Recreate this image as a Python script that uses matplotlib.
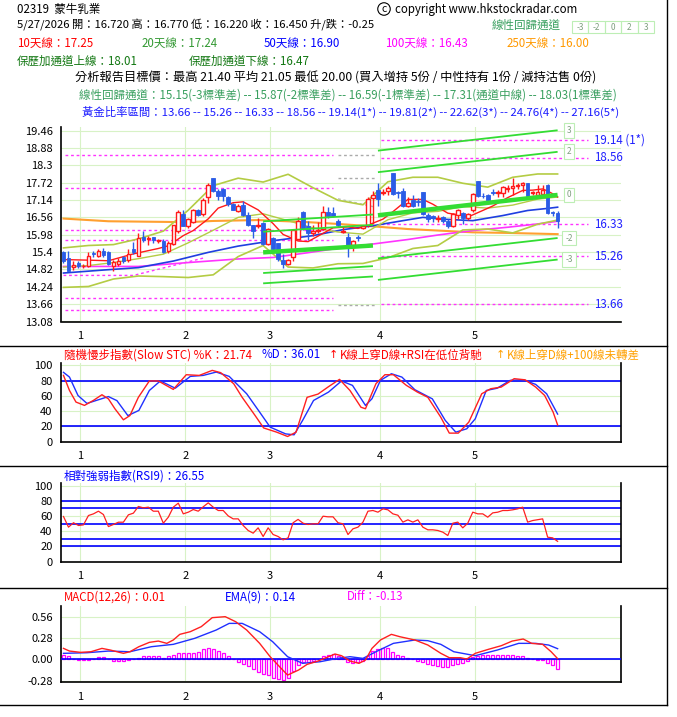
import matplotlib.pyplot as plt
from matplotlib.lines import Line2D
from matplotlib.patches import Rectangle
import numpy as np

plt.rcParams['font.family'] = ['Noto Sans CJK TC', 'DejaVu Sans']

# ---- daily candles, index 0 .. 99 (last = 5/27/2026)
opens = [15.39, 15.19, 14.90, 15.02, 14.92, 14.93, 15.36, 15.26, 15.45, 15.39,
         14.93, 15.01, 15.23, 15.12, 15.51, 15.28, 15.89, 15.85, 15.90, 15.78,
         15.78, 15.42, 15.68, 16.12, 16.68, 16.27, 16.42, 16.82, 16.68, 17.23,
         17.89, 17.45, 17.52, 17.25, 17.01, 16.76, 16.98, 16.64, 16.31, 16.28,
         16.38, 15.68, 15.86, 15.69, 15.12, 15.01, 15.23, 15.84, 16.73, 16.26,
         16.03, 16.12, 16.18, 16.73, 16.70, 16.45, 16.08, 15.89, 15.62, 15.90,
         16.22, 16.29, 17.22, 17.49, 17.38, 17.43, 18.05, 17.40, 17.43, 16.95,
         17.13, 17.12, 17.42, 16.64, 16.60, 16.52, 16.58, 16.45, 16.26, 16.64,
         16.70, 16.54, 16.79, 17.76, 17.29, 17.31, 17.42, 17.36, 17.38, 17.52,
         17.55, 17.62, 17.63, 17.70, 17.36, 17.30, 17.35, 17.64, 16.74, 16.72]
highs = [15.42, 15.45, 15.10, 15.10, 15.00, 15.40, 15.45, 15.50, 15.55, 15.42,
         15.15, 15.20, 15.28, 15.50, 15.75, 16.05, 16.12, 15.95, 15.92, 15.85,
         15.85, 15.78, 16.30, 16.80, 16.80, 16.55, 16.85, 16.85, 17.20, 17.72,
         17.89, 17.52, 17.55, 17.28, 17.05, 17.00, 17.10, 16.75, 16.31, 16.55,
         16.40, 16.20, 15.90, 15.72, 15.32, 15.18, 16.18, 16.58, 16.78, 16.45,
         16.30, 16.40, 16.95, 16.90, 16.90, 16.50, 16.25, 16.05, 15.80, 15.97,
         16.30, 17.23, 17.45, 17.70, 17.50, 17.60, 18.05, 17.45, 17.55, 17.25,
         17.30, 17.20, 17.42, 16.70, 16.65, 16.65, 16.62, 16.50, 16.72, 16.85,
         16.75, 16.72, 17.38, 17.76, 17.38, 17.35, 17.50, 17.48, 17.62, 17.65,
         17.88, 17.70, 17.75, 17.72, 17.45, 17.65, 17.65, 17.68, 16.78, 16.77]
lows = [15.05, 14.78, 14.80, 14.88, 14.88, 14.90, 15.25, 15.22, 15.22, 14.98,
        14.78, 14.95, 15.05, 15.08, 15.35, 15.26, 15.75, 15.65, 15.70, 15.72,
        15.36, 15.38, 15.62, 16.05, 16.26, 16.22, 16.38, 16.60, 16.62, 17.05,
        17.40, 17.15, 17.10, 16.95, 16.79, 16.74, 16.60, 16.28, 15.88, 16.20,
        15.65, 15.65, 15.45, 15.10, 14.86, 14.98, 15.10, 15.80, 16.15, 15.80,
        15.95, 16.05, 16.15, 16.55, 16.58, 16.25, 16.05, 15.23, 15.45, 15.78,
        16.18, 16.25, 16.35, 16.95, 17.30, 17.30, 17.30, 17.20, 16.90, 16.90,
        16.90, 16.95, 16.65, 16.40, 16.40, 16.40, 16.38, 16.22, 16.24, 16.50,
        16.35, 16.48, 16.75, 17.25, 17.20, 17.05, 17.30, 17.25, 17.25, 17.40,
        17.30, 17.50, 17.40, 17.25, 17.30, 17.28, 17.30, 16.68, 16.60, 16.22]
closes = [15.09, 14.78, 14.98, 14.95, 14.95, 15.28, 15.32, 15.45, 15.31, 15.01,
          15.06, 15.10, 15.09, 15.34, 15.39, 15.86, 15.80, 15.88, 15.82, 15.81,
          15.39, 15.69, 16.29, 16.73, 16.26, 16.49, 16.81, 16.64, 17.14, 17.64,
          17.45, 17.27, 17.29, 17.01, 16.79, 16.95, 16.64, 16.31, 16.12, 16.31,
          15.68, 16.18, 15.51, 15.17, 15.01, 15.12, 16.15, 16.45, 16.18, 16.03,
          16.12, 16.15, 16.73, 16.59, 16.62, 16.29, 16.12, 15.59, 15.78, 15.87,
          16.26, 17.18, 17.30, 17.16, 17.42, 17.55, 17.35, 17.36, 16.95, 17.05,
          16.95, 17.08, 16.68, 16.51, 16.55, 16.55, 16.45, 16.26, 16.68, 16.79,
          16.55, 16.68, 17.35, 17.29, 17.27, 17.13, 17.38, 17.40, 17.59, 17.55,
          17.62, 17.64, 17.72, 17.29, 17.40, 17.42, 17.46, 16.71, 16.70, 16.45]

month_start = [3, 24, 41, 63, 82]
month_labels = ['1', '2', '3', '4', '5']

# ---- moving averages / bands (x = day index)
ma10_x = [0, 5, 9, 14, 19, 21, 24, 26, 29, 31, 34, 36, 39, 42, 44, 47, 49, 54, 57, 59,
          61, 64, 66, 69, 72, 74, 77, 79, 81, 84, 86, 89, 92, 94, 96, 97, 98, 99]
ma10 = [15.15, 15.13, 15.11, 15.34, 15.52, 15.61, 15.95, 16.12, 16.51, 16.87, 17.05, 17.08,
        16.81, 16.35, 15.99, 15.77, 15.75, 16.21, 16.24, 16.19, 16.30, 16.50, 16.75, 17.16,
        17.16, 17.00, 16.70, 16.65, 16.57, 16.79, 16.94, 17.22, 17.46, 17.47, 17.51, 17.44,
        17.35, 17.24]
bb_x = [0, 5, 10, 15, 20, 25, 30, 35, 40, 45, 50, 55, 60, 65, 70, 75, 80, 85, 90, 95, 99]
bb_mid = [14.90, 14.95, 15.05, 15.18, 15.33, 15.71, 16.13, 16.56, 16.68, 16.45, 16.21,
          16.07, 16.00, 16.48, 16.71, 16.76, 16.92, 16.87, 16.97, 17.17, 17.24]
bb_up = [15.54, 15.62, 15.65, 15.84, 16.10, 16.80, 17.62, 17.87, 17.74, 18.00, 17.55,
         17.13, 16.98, 17.75, 17.90, 17.90, 17.70, 17.57, 17.90, 18.01, 18.01]
bb_low = [14.22, 14.25, 14.50, 14.60, 14.58, 14.55, 14.64, 15.25, 15.62, 14.90, 14.87,
          15.01, 15.02, 15.21, 15.52, 15.62, 16.14, 16.17, 16.04, 16.33, 16.47]
ma50_x = [0, 8, 15, 22, 29, 35, 42, 50, 56, 62, 68, 72, 76, 82, 88, 93, 97, 99]
ma50 = [14.70, 14.80, 14.88, 15.10, 15.39, 15.60, 15.78, 15.95, 16.15, 16.28, 16.45,
        16.56, 16.50, 16.45, 16.62, 16.79, 16.86, 16.90]
ma100_x = [0, 15, 25, 35, 42, 49, 56, 62, 69, 75, 82, 89, 95, 99]
ma100 = [14.92, 14.92, 15.05, 15.17, 15.22, 15.38, 15.55, 15.67, 15.82, 15.97, 16.12,
         16.23, 16.34, 16.43]
ma250_x = [0, 9, 25, 30, 39, 49, 55, 62, 69, 75, 82, 89, 99]
ma250 = [16.52, 16.43, 16.40, 16.44, 16.47, 16.40, 16.34, 16.26, 16.17, 16.12, 16.06,
         16.04, 16.00]

# linear regression channels (start/end of centre line, one std dev)
regA_x = [40, 62]
regA_mid = [15.39, 15.62]
regA_sd = 0.345
regB_x = [63, 99]
regB_mid = [16.63, 17.31]
regB_sd = 0.72
reg_levels = [3, 2, 0, -2, -3]

# golden-ratio levels
fib_old = [18.65, 17.55, 16.15, 15.82, 13.87, 13.45]
fib_old_x = [0.3, 54]
fib_gray = [18.65, 17.88, 13.63]
fib_gray_x = [55, 62.5]
fib_new = [19.14, 18.56, 16.33, 15.26, 13.66]
fib_new_lbl = ['19.14 (1*)', '18.56', '16.33', '15.26', '13.66']
fib_new_x = [63.7, 105]
pink_dot_x = [0, 14, 28.5]
pink_dot = [14.62, 14.62, 15.22]

# ---- slow stochastic
k_x = [0, 1.2, 2.5, 4.2, 6, 7.7, 9, 10.3, 12, 13.3, 15, 17.2, 19, 22, 24.6, 27.2, 29.8,
       31.5, 34.1, 35.8, 38.4, 40.1, 42.7, 44.9, 46.6, 48.8, 51, 53.1, 55.3, 57.4, 59.6,
       60.5, 62.6, 64.4, 66.1, 68.7, 70.9, 73, 75.6, 77.3, 79.1, 81.2, 83.8, 85.6, 87.7,
       90.3, 92.5, 94.6, 96.4, 98.1, 99]
k_val = [86.8, 67, 51.8, 47.4, 54, 61.4, 56, 43, 28.5, 34, 58, 79.5, 79.5, 68.4, 87.7,
         86.8, 93.4, 90.4, 75.9, 58, 34, 17.8, 12.3, 6.6, 12.3, 58, 62.3, 72, 81.6, 67,
         45, 43, 75.9, 87.7, 87.7, 73.7, 64.9, 58, 31.8, 11, 11, 25.4, 62.7, 69.3, 71.5,
         82.5, 81, 71.5, 60.5, 38.6, 21.74]
d_x = [0, 1.2, 2.9, 4.7, 9, 10.7, 12.9, 15.1, 17.2, 19.4, 22.4, 25.4, 28, 30.6, 33.2,
       36.7, 39.3, 41.4, 44.5, 46.2, 47.9, 50.1, 53.1, 55.7, 57.9, 60.5, 61.8, 63.5, 65.7,
       67.8, 70.4, 73.9, 76.5, 78.6, 80.8, 82.5, 84.7, 86.9, 89.5, 92.1, 94.6, 96.8, 99]
d_val = [90.8, 84.6, 60.5, 50, 59, 53.7, 34, 40.8, 67, 79.5, 70, 85.5, 86.8, 91.2, 85.5,
         62.7, 38.6, 18.9, 10, 8.8, 27.6, 53.9, 64.9, 79.5, 73.7, 47.4, 56.1, 80.3, 89,
         84.6, 68, 56, 27.6, 12.3, 16.7, 29.8, 67, 70, 80.3, 81, 75, 62.7, 36.01]

# ---- RSI(9), one value per day
rsi = [59.2, 45.2, 51, 47.4, 48.2, 60.5, 62.7, 66.2, 61.8, 46,
       48.7, 51.7, 51.7, 61.4, 63.6, 72.4, 70.6, 71.5, 66.2, 66.2,
       50.4, 58.3, 71.5, 76.8, 62.7, 64.9, 68.4, 66.2, 72, 77.2,
       71.5, 67.1, 67.1, 60, 56.1, 56.1, 47.4, 40.8, 37.3, 44.3,
       32.9, 44.3, 35.5, 32.9, 28.5, 31.1, 51, 55.4, 50.4, 48.7,
       49.6, 49.6, 59.6, 58.8, 58.8, 51, 49.6, 35.5, 43, 45.2,
       51.8, 66.2, 67.1, 64.9, 69.3, 68, 62.7, 60.9, 51.8, 54.8,
       51.8, 54.8, 45.2, 41.7, 41.7, 40.8, 38.6, 34.2, 50.4, 51.8,
       44.3, 50.4, 64.9, 62.7, 62.7, 58.3, 64, 64.9, 67.1, 67.1,
       68, 69.3, 71.5, 51.8, 53.9, 55, 56.1, 32, 31.1, 26.55]

# ---- MACD
macd_x = [0, 1.2, 3.4, 5.5, 7.7, 9.4, 12, 13.3, 15.1, 17.2, 19, 20.7, 22, 23.3, 25.4,
          27.6, 29.8, 32.4, 34.5, 36.7, 39.3, 41.4, 43.6, 44.9, 47.1, 48.8, 51, 53.1,
          54.4, 55.7, 57.4, 59.2, 60.5, 61.8, 63.5, 65.7, 67.4, 70.4, 73, 75.6, 77.3,
          79.5, 80.8, 82.5, 85.1, 87.7, 89.9, 92.1, 93.8, 96, 97.7, 99]
macd = [0.144, 0.109, 0.092, 0.10, 0.144, 0.122, 0.079, 0.10, 0.166, 0.223, 0.24, 0.21,
        0.254, 0.328, 0.363, 0.429, 0.547, 0.56, 0.494, 0.385, 0.21, 0.035, -0.118,
        -0.206, -0.14, -0.066, -0.022, 0.035, 0.07, 0.048, -0.022, -0.052, -0.009, 0.144,
        0.254, 0.328, 0.297, 0.254, 0.188, 0.079, 0.022, 0.022, 0.004, 0.079, 0.131,
        0.179, 0.24, 0.267, 0.21, 0.197, 0.10, 0.01]
ema_x = [0, 4.7, 9, 13.3, 17.6, 22, 26.3, 30.6, 33.2, 35.8, 39.3, 41.9, 44.9, 47.9, 51.4,
         54.9, 57.4, 60, 62.6, 66.1, 70.4, 73, 75.6, 78.2, 82.5, 86.9, 91.2, 94.6, 97.2, 99]
ema = [0.079, 0.087, 0.109, 0.10, 0.166, 0.197, 0.276, 0.385, 0.472, 0.472, 0.363, 0.232,
       0.035, -0.052, -0.031, 0.013, 0.035, 0.013, 0.10, 0.21, 0.254, 0.245, 0.197, 0.10,
       0.048, 0.122, 0.21, 0.21, 0.188, 0.14]
diff = [0.06, 0.04, 0.01, -0.01, -0.01, -0.01, 0.01, 0.03, 0.03, 0.01,
        -0.02, -0.02, -0.02, -0.01, 0.0, 0.02, 0.04, 0.05, 0.05, 0.05,
        0.02, 0.05, 0.06, 0.08, 0.08, 0.08, 0.09, 0.10, 0.13, 0.15,
        0.14, 0.11, 0.08, 0.05, 0.0, -0.03, -0.06, -0.09, -0.13, -0.16,
        -0.19, -0.21, -0.24, -0.26, -0.27, -0.25, -0.15, -0.08, -0.04, -0.03,
        -0.02, 0.01, 0.04, 0.06, 0.07, 0.05, 0.02, -0.03, -0.05, -0.04,
        -0.02, 0.05, 0.11, 0.14, 0.15, 0.15, 0.10, 0.06, 0.04, 0.02,
        0.0, -0.02, -0.04, -0.06, -0.08, -0.09, -0.10, -0.10, -0.08, -0.06,
        -0.05, -0.02, 0.03, 0.05, 0.06, 0.06, 0.06, 0.06, 0.06, 0.06,
        0.06, 0.05, 0.04, 0.02, 0.0, -0.01, -0.01, -0.05, -0.08, -0.13]

# ================= drawing =================
W, H = 677, 717
fig = plt.figure(figsize=(W / 100, H / 100), dpi=100)


def rect(l, t, r, b):
    return [l / W, 1 - b / H, (r - l) / W, (b - t) / H]


def ftext(x, y, s, **kw):
    kw.setdefault('va', 'center')
    kw.setdefault('fontsize', 8.3)
    fig.text(x / W, 1 - y / H, s, **kw)


def hline(x0, x1, y):
    fig.add_artist(Line2D([x0 / W, x1 / W], [1 - y / H, 1 - y / H], color='black', lw=1))


GRID = '#d8f2c6'
XLIM = (-0.5, 111.7)
tick_pos = [m + 0.4 for m in month_start]
RED, BLUE, MAG, ORG = '#ff1a1a', '#1f3fe0', '#ff33ff', '#ffa030'
OLIVE = '#b4cc44'
LGREEN = '#33dd33'


def style(ax, yt, yl, right=True):
    ax.set_xlim(*XLIM)
    ax.set_xticks(tick_pos)
    ax.set_xticklabels(month_labels)
    ax.set_yticks(yt)
    ax.set_yticklabels(yl)
    ax.tick_params(length=0, labelsize=8, pad=7)
    ax.tick_params(axis='y', pad=6)
    ax.grid(True, color=GRID, lw=0.8)
    ax.set_axisbelow(True)
    ax.spines['top'].set_visible(False)
    ax.spines['right'].set_visible(right)
    for s in ax.spines.values():
        s.set_linewidth(1.2)


# ---- main price panel
ax = fig.add_axes(rect(61, 127, 621, 321.5))
yt = [19.46, 18.88, 18.3, 17.72, 17.14, 16.56, 15.98, 15.4, 14.82, 14.24, 13.66, 13.08]
style(ax, yt, [str(v) for v in yt], right=False)
ax.set_ylim(13.08, 19.58)

dot = (0, (2, 2))
for v in fib_old:
    ax.plot(fib_old_x, [v, v], color=MAG, lw=1, ls=dot, zorder=2)
for v in fib_gray:
    ax.plot(fib_gray_x, [v, v], color='#aaaaaa', lw=1, ls=dot, zorder=2)
ax.plot([55, 62], [17.18, 16.92], color='#bbbbbb', lw=1, ls=dot, zorder=2)
ax.plot(pink_dot_x, pink_dot, color=MAG, lw=1, ls=dot, zorder=2)
for v, t in zip(fib_new, fib_new_lbl):
    ax.plot(fib_new_x, [v, v], color=MAG, lw=1, ls=dot, zorder=2)
    ax.text(106.2, v, t, color='#2020ff', fontsize=8.3, va='center', ha='left')

ax.plot(ma250_x, ma250, color=ORG, lw=1.5, zorder=2)
ax.plot(ma100_x, ma100, color=MAG, lw=1.2, zorder=2)
ax.plot(ma50_x, ma50, color=BLUE, lw=1.2, zorder=2)
ax.plot(bb_x, bb_up, color=OLIVE, lw=1.2, zorder=2)
ax.plot(bb_x, bb_low, color=OLIVE, lw=1.2, zorder=2)
ax.plot(bb_x, bb_mid, color=OLIVE, lw=1.0, zorder=2)
ax.plot(ma10_x, ma10, color=RED, lw=1.0, zorder=2)

# candles
idx = np.arange(len(closes))
o, hi, lo, c = (np.array(a) for a in (opens, highs, lows, closes))
up = c >= o
UPC, DNC = '#ff1a1a', '#2b5ce6'
ax.vlines(idx[up], lo[up], hi[up], color=UPC, lw=1, zorder=3)
ax.vlines(idx[~up], lo[~up], hi[~up], color=DNC, lw=1, zorder=3)
body = np.maximum(np.abs(c - o), 0.02)
ax.bar(idx[up], body[up], bottom=o[up], width=0.72, facecolor='white',
       edgecolor=UPC, lw=1, zorder=4)
ax.bar(idx[~up], body[~up], bottom=c[~up], width=0.72, color=DNC,
       edgecolor=DNC, lw=0.6, zorder=4)

# regression channels
for xs, mid, sd in [(regA_x, regA_mid, regA_sd), (regB_x, regB_mid, regB_sd)]:
    for k in reg_levels:
        ax.plot(xs, [mid[0] + k * sd, mid[1] + k * sd], color=LGREEN,
                lw=3.2 if k == 0 else 1.3, zorder=5, solid_capstyle='butt')
for k in reg_levels:
    ax.text(101.3, regB_mid[1] + k * regB_sd, str(k), fontsize=6, color='#7f9f7f',
            ha='center', va='center',
            bbox=dict(boxstyle='square,pad=0.35', fc='white', ec='#bdeeb5', lw=0.8))

# ---- slow stochastic panel
ax2 = fig.add_axes(rect(61, 363.3, 621, 441.5))
style(ax2, [0, 20, 40, 60, 80, 100], ['0', '20', '40', '60', '80', '100'])
ax2.set_ylim(0, 102.7)
for v in (20, 80):
    ax2.axhline(v, color='#0000ff', lw=1.2, zorder=2)
ax2.plot(d_x, d_val, color='#2030ff', lw=1, zorder=3)
ax2.plot(k_x, k_val, color='#ff2020', lw=1, zorder=4)

# ---- RSI panel
ax3 = fig.add_axes(rect(61, 483, 621, 561.5))
style(ax3, [0, 20, 40, 60, 80, 100], ['0', '20', '40', '60', '80', '100'])
ax3.set_ylim(0, 103.3)
for v in (20, 30, 50, 70, 80):
    ax3.axhline(v, color='#0000ff', lw=1.2, zorder=2)
ax3.plot(idx, rsi, color='#ff2020', lw=0.9, zorder=3)

# ---- MACD panel
ax4 = fig.add_axes(rect(61, 605.7, 621, 682))
style(ax4, [0.56, 0.28, 0.0, -0.28], ['0.56', '0.28', '0.00', '-0.28'])
ax4.set_ylim(-0.297, 0.704)
ax4.bar(idx, diff, width=0.6, fill=False, edgecolor='#ff00ff', lw=0.9, zorder=2)
ax4.axhline(0, color='#0000ff', lw=1.2, zorder=3)
ax4.plot(ema_x, ema, color='#2030ff', lw=1, zorder=4)
ax4.plot(macd_x, macd, color='#ff2020', lw=1, zorder=5)

# ---- frame
for y in (346, 466, 588, 705):
    hline(0, 667, y)
fig.add_artist(Line2D([667 / W, 667 / W], [1 - 0 / H, 1 - 705 / H], color='black', lw=1))

# ---- header texts
ftext(17, 9, '02319  蒙牛乳業')
ftext(384, 9, 'c', ha='center', fontsize=7.5,
      bbox=dict(boxstyle='circle,pad=0.12', fc='white', ec='black', lw=0.8))
ftext(395, 9, 'copyright www.hkstockradar.com')
ftext(17, 25, '5/27/2026 開：16.720 高：16.770 低：16.220 收：16.450 升/跌：-0.25', fontsize=8.1)
REG = '#3aa060'
ftext(492, 25, '線性回歸通道', color=REG)
for n, t in enumerate(['-3', '-2', '0', '2', '3']):
    x0 = 572 + n * 16.4
    fig.add_artist(Rectangle((x0 / W, 1 - 33 / H), 16.4 / W, 12 / H, fill=False,
                             ec='#bdeeb5', lw=0.8, transform=fig.transFigure))
    ftext(x0 + 8.2, 27, t, ha='center', fontsize=6, color='#7f9f7f')
ftext(17, 43, '10天線：17.25', color='#ff0000')
ftext(142, 43, '20天線：17.24', color='#339933')
ftext(264, 43, '50天線：16.90', color='#0000ff')
ftext(385, 43, '100天線：16.43', color='#ff00ff')
ftext(507, 43, '250天線：16.00', color='#ff9900')
ftext(17, 61, '保歷加通道上線：18.01', color='#117711')
ftext(189, 61, '保歷加通道下線：16.47', color='#117711')
ftext(75, 78, '分析報告目標價：最高 21.40 平均 21.05 最低 20.00 (買入增持 5份 / 中性持有 1份 / 減持沽售 0份)',
      fontsize=8.8)
ftext(79, 95, '線性回歸通道：15.15(-3標準差) -- 15.87(-2標準差) -- 16.59(-1標準差) -- 17.31(通道中線) -- 18.03(1標準差)',
      color=REG)
ftext(82, 112, '黃金比率區間：13.66 -- 15.26 -- 16.33 -- 18.56 -- 19.14(1*) -- 19.81(2*) -- 22.62(3*) -- 24.76(4*) -- 27.16(5*)',
      color='#1a1aff', fontsize=8.2)

# ---- panel titles
ftext(64, 355, '隨機慢步指數(Slow STC) %K：21.74', color='#ff0000')
ftext(262, 355, '%D：36.01', color='#0000ff')
ftext(333, 355, '↑', color='#ff0000', ha='center', family='DejaVu Sans', fontsize=8)
ftext(340, 355, 'K線上穿D線+RSI在低位背馳', color='#ff0000')
ftext(500, 355, '↑', color='#ffa000', ha='center', family='DejaVu Sans', fontsize=8)
ftext(507, 355, 'K線上穿D線+100線未轉差', color='#ffa000')
ftext(64, 476, '相對強弱指數(RSI9)：26.55', color='#0000ff')
ftext(64, 597, 'MACD(12,26)：0.01', color='#ff0000')
ftext(225, 597, 'EMA(9)：0.14', color='#0000ff')
ftext(347, 597, 'Diff：-0.13', color='#ff00ff')

fig.savefig('out.png', dpi=100)
